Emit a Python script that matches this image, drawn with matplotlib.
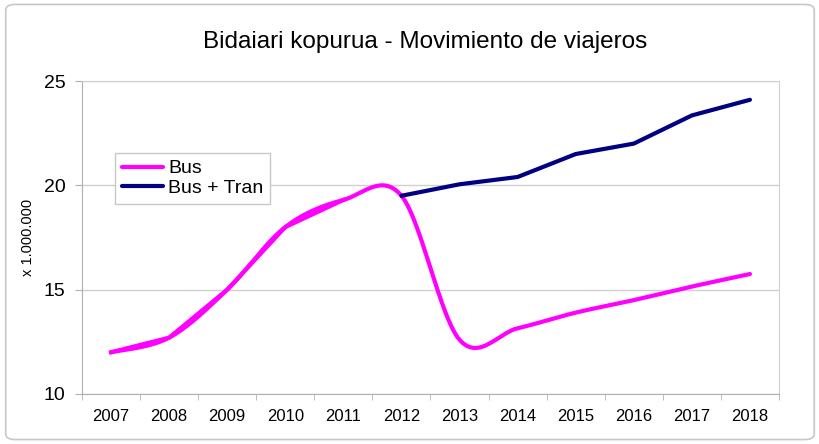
import numpy as np
import matplotlib.pyplot as plt
from matplotlib.patches import FancyBboxPatch

plt.rcParams['font.family'] = ['Liberation Sans', 'DejaVu Sans']

years = ['2007', '2008', '2009', '2010', '2011', '2012',
         '2013', '2014', '2015', '2016', '2017', '2018']
bus = [12.0, 12.7, 15.0, 18.0, 19.3, 19.5, 12.6, 13.15, 13.9, 14.5, 15.15, 15.75]
bus_tran = [12.0, 12.7, 15.0, 18.0, 19.3, 19.5, 20.05, 20.4, 21.5, 22.0, 23.35, 24.1]
split = 5  # Bus + Tran drawn in navy from 2012 on


def smooth(y, n=30):
    # Excel-like smoothed line (Catmull-Rom through the points)
    y = np.asarray(y, float)
    x = np.arange(len(y), dtype=float)
    xs, ys = [], []
    for i in range(len(y) - 1):
        p0 = np.array([x[max(i - 1, 0)], y[max(i - 1, 0)]])
        p1 = np.array([x[i], y[i]])
        p2 = np.array([x[i + 1], y[i + 1]])
        p3 = np.array([x[min(i + 2, len(y) - 1)], y[min(i + 2, len(y) - 1)]])
        c1 = p1 + (p2 - p0) / 6
        c2 = p2 - (p3 - p1) / 6
        t = np.linspace(0, 1, n)[:, None]
        pts = ((1 - t) ** 3) * p1 + 3 * ((1 - t) ** 2) * t * c1 + 3 * (1 - t) * t ** 2 * c2 + t ** 3 * p2
        xs.extend(pts[:, 0])
        ys.extend(pts[:, 1])
    return np.array(xs), np.array(ys)


fig = plt.figure(figsize=(8.2, 4.44), dpi=100)
border = FancyBboxPatch((0.007, 0.01), 0.986, 0.98, boxstyle='round,pad=0,rounding_size=0.012',
                        transform=fig.transFigure, facecolor='none', edgecolor='#c8c8c8', lw=1.2,
                        zorder=-1)
fig.patches.append(border)
ax = fig.add_axes([82 / 820, 1 - 394 / 444, (779 - 82) / 820, (394 - 81) / 444])

x = np.arange(len(years))
sx, sy = smooth(bus)
ax.plot(sx, sy, color='#ff00ff', lw=3, solid_capstyle='round', label='Bus', zorder=3)
ax.plot(x[:split], bus_tran[:split], color='#ff00ff', lw=3, zorder=3)
ax.plot(x[split:], bus_tran[split:], color='#000080', lw=3, solid_capstyle='round',
        label='Bus + Tran', zorder=4)

ax.set_xlim(-0.5, len(years) - 0.5)
ax.set_ylim(10, 25)
ax.set_yticks([10, 15, 20, 25])
ax.set_xticks(x)
ax.set_xticklabels(years)
ax.set_xticks(np.arange(-0.5, len(years)), minor=True)
ax.tick_params(axis='x', which='major', length=0, labelsize=12, pad=11)
ax.tick_params(axis='x', which='minor', length=4, color='#b0b0b0', direction='out')
ax.tick_params(axis='y', length=5, color='#b0b0b0', labelsize=14, pad=7)
ax.grid(axis='y', color='#d0d0d0', lw=1)
for s in ['top', 'right']:
    ax.spines[s].set_color('#d0d0d0')
for s in ['left', 'bottom']:
    ax.spines[s].set_color('#b0b0b0')
ax.set_ylabel('x 1.000.000', fontsize=10.5)
ax.yaxis.set_label_coords(-0.068, 0.5)

fig.text(0.518, 0.905, 'Bidaiari kopurua - Movimiento de viajeros', ha='center', va='center', fontsize=17.5)

leg = ax.legend(loc='upper left', bbox_to_anchor=(0.047, 0.77), fontsize=14, fancybox=False,
                framealpha=1, edgecolor='#c8c8c8', handlelength=2.15, borderpad=0.35,
                labelspacing=0.1, handletextpad=0.25, borderaxespad=0)
leg.get_frame().set_linewidth(1)

fig.savefig('out.png', dpi=100)
